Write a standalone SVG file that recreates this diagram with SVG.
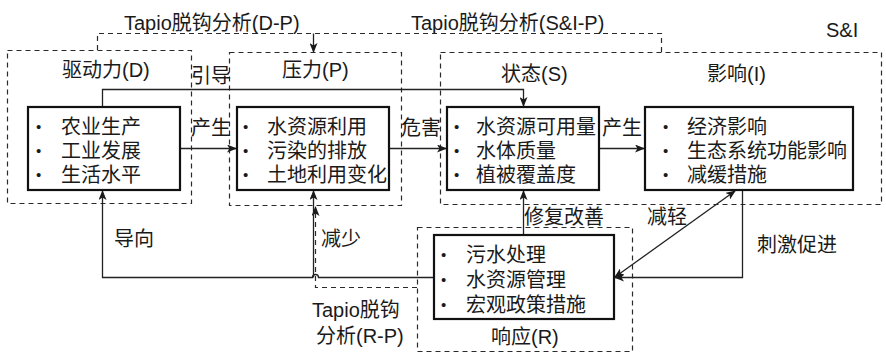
<svg xmlns="http://www.w3.org/2000/svg" width="886" height="353" viewBox="0 0 886 353">
<defs>
<marker id="arr" markerUnits="userSpaceOnUse" markerWidth="10" markerHeight="8" refX="9" refY="4" orient="auto-start-reverse" viewBox="0 0 10 8">
<path d="M0,0 L10,4 L0,8 L2.5,4 z" fill="#1a1a1a" stroke="none"/>
</marker>
<style>
text{font-family:"Liberation Sans","Noto Sans CJK SC",sans-serif;font-size:20px;fill:#1a1a1a}
.dash{fill:none;stroke:#2a2a2a;stroke-width:1.2;stroke-dasharray:5,4}
.box{fill:#fff;stroke:#111;stroke-width:2.2}
.con{fill:none;stroke:#222;stroke-width:1.3}
.b{font-size:15px}
</style>
</defs>
<rect width="886" height="353" fill="#fff"/>

<g id="groups">
<rect id="grpD" class="dash" x="7.5" y="50.5" width="184" height="153"/>
<rect id="grpP" class="dash" x="229.5" y="52.5" width="172" height="153"/>
<rect id="grpSI" class="dash" x="440.5" y="52.5" width="441" height="152"/>
<rect id="grpR" class="dash" x="417.5" y="227.5" width="215" height="124"/>
</g>

<g id="connectors">
<path class="dash" d="M97.5,50 V33.5 H661.5 V52"/>
<path class="con" d="M313.5,33.5 V52" marker-end="url(#arr)"/>
<path class="dash" d="M417,287.5 H315.5 V207" marker-end="url(#arr)"/>
<path class="con" d="M180,148.5 H236" marker-end="url(#arr)"/>
<path class="con" d="M389,148.5 H446" marker-end="url(#arr)"/>
<path class="con" d="M599,148.5 H644" marker-end="url(#arr)"/>
<path class="con" d="M102.5,107 V89.5 H523.5 V106" marker-end="url(#arr)"/>
<path class="con" d="M433,277.5 H318.5 A3,3 0 0 0 312.5,277.5 H102.5 V191" marker-end="url(#arr)"/>
<path class="con" d="M313.5,277.5 V191" marker-end="url(#arr)"/>
<path class="con" d="M523.5,235 V191" marker-end="url(#arr)"/>
<path class="con" d="M742.5,190 V277.5 H615" marker-end="url(#arr)"/>
<path class="con" d="M615,277 L735,191" marker-start="url(#arr)" marker-end="url(#arr)"/>
</g>

<g id="nodeD">
<rect class="box" x="28" y="107" width="152" height="83"/>
<text class="b" x="36" y="132">•</text><text x="61" y="134">农业生产</text>
<text class="b" x="36" y="156">•</text><text x="61" y="158">工业发展</text>
<text class="b" x="36" y="180">•</text><text x="61" y="182">生活水平</text>
</g>
<g id="nodeP">
<rect class="box" x="237" y="107" width="152" height="83"/>
<text class="b" x="243" y="132">•</text><text x="267" y="134">水资源利用</text>
<text class="b" x="243" y="156">•</text><text x="267" y="158">污染的排放</text>
<text class="b" x="243" y="180">•</text><text x="267" y="182">土地利用变化</text>
</g>
<g id="nodeS">
<rect class="box" x="447" y="107" width="152" height="83"/>
<text class="b" x="454" y="132">•</text><text x="476" y="134">水资源可用量</text>
<text class="b" x="454" y="156">•</text><text x="476" y="158">水体质量</text>
<text class="b" x="454" y="180">•</text><text x="476" y="182">植被覆盖度</text>
</g>
<g id="nodeI">
<rect class="box" x="645" y="107" width="208" height="83"/>
<text class="b" x="663" y="132">•</text><text x="687" y="134">经济影响</text>
<text class="b" x="663" y="156">•</text><text x="687" y="158">生态系统功能影响</text>
<text class="b" x="663" y="180">•</text><text x="687" y="182">减缓措施</text>
</g>
<g id="nodeR">
<rect class="box" x="434" y="235" width="180" height="84"/>
<text class="b" x="441" y="260">•</text><text x="466" y="262">污水处理</text>
<text class="b" x="441" y="285">•</text><text x="466" y="287">水资源管理</text>
<text class="b" x="441" y="310">•</text><text x="466" y="312">宏观政策措施</text>
</g>

<g id="labels">
<text x="124" y="30">Tapio脱钩分析(D-P)</text>
<text x="411" y="30">Tapio脱钩分析(S&amp;I-P)</text>
<text x="826" y="37">S&amp;I</text>
<text x="62" y="77">驱动力(D)</text>
<text x="282" y="77">压力(P)</text>
<text x="501" y="81">状态(S)</text>
<text x="707" y="81">影响(I)</text>
<text x="491" y="344">响应(R)</text>
<text x="191" y="83">引导</text>
<text x="191" y="135">产生</text>
<text x="401" y="135">危害</text>
<text x="602" y="135">产生</text>
<text x="524" y="224">修复改善</text>
<text x="647" y="224">减轻</text>
<text x="757" y="252">刺激促进</text>
<text x="114" y="246">导向</text>
<text x="321" y="246">减少</text>
<text x="312" y="317">Tapio脱钩</text>
<text x="316" y="343">分析(R-P)</text>
</g>
</svg>
